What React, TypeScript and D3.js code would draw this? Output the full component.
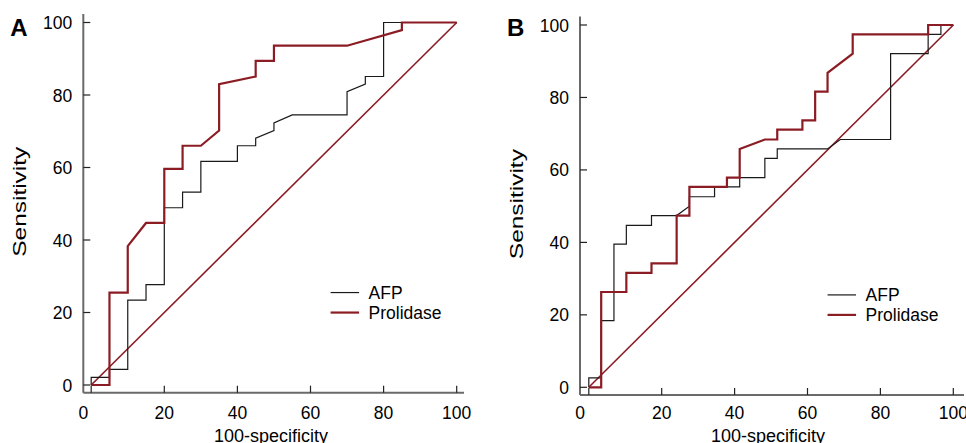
import React from "react";
import * as d3 from "d3";

// panel A
const afpAx = [0, 0, 5, 5, 10, 10, 15, 15, 20, 20, 25, 25, 30, 30, 40, 40, 45, 45, 50, 50, 55, 70, 70, 75, 75, 80, 80, 100];
const afpAy = [0, 2.1, 2.1, 4.3, 4.3, 23.4, 23.4, 27.7, 27.7, 48.9, 48.9, 53.2, 53.2, 61.7, 61.7, 66, 66, 68.1, 70.2, 72.3, 74.5, 74.5, 80.9, 83, 85.1, 85.1, 100, 100];
const proAx = [0, 5, 5, 10, 10, 15, 20, 20, 25, 25, 30, 35, 35, 45, 45, 50, 50, 70, 85, 85, 100];
const proAy = [0, 0, 25.5, 25.5, 38.3, 44.7, 44.7, 59.6, 59.6, 66, 66, 70.2, 83, 85.1, 89.4, 89.4, 93.6, 93.6, 97.9, 100, 100];

// panel B
const afpBx = [0, 0, 3.4, 3.4, 6.9, 6.9, 10.3, 10.3, 17.2, 17.2, 24.1, 27.6, 27.6, 34.5, 34.5, 41.4, 41.4, 48.3, 48.3, 51.7, 51.7, 65.5, 69, 82.8, 82.8, 93.1, 93.1, 96.6, 96.6, 100];
const afpBy = [0, 2.6, 2.6, 18.4, 18.4, 39.5, 39.5, 44.7, 44.7, 47.4, 47.4, 50, 52.6, 52.6, 55.3, 55.3, 57.9, 57.9, 63.2, 63.2, 65.8, 65.8, 68.4, 68.4, 92.1, 92.1, 97.4, 97.4, 100, 100];
const proBx = [0, 3.4, 3.4, 10.3, 10.3, 17.2, 17.2, 24.1, 24.1, 27.6, 27.6, 37.9, 37.9, 41.4, 41.4, 48.3, 51.7, 51.7, 58.6, 58.6, 62.1, 62.1, 65.5, 65.5, 72.4, 72.4, 93.1, 93.1, 100];
const proBy = [0, 0, 26.3, 26.3, 31.6, 31.6, 34.2, 34.2, 47.4, 47.4, 55.3, 55.3, 57.9, 57.9, 65.8, 68.4, 68.4, 71.1, 71.1, 73.7, 73.7, 81.6, 81.6, 86.8, 92.1, 97.4, 97.4, 100, 100];

const ticks = [0, 20, 40, 60, 80, 100];
const seriesNames = ["AFP", "Prolidase"];

const RED = "#8c1c24";
const FONT = "'Liberation Sans', Arial, sans-serif";

const zip = (xs: number[], ys: number[]) => xs.map((x, i) => [x, ys[i]] as [number, number]);

function Panel({ letter, x0, x100, y0, y100, axisX, axisY, xEnd, yTop, afp, pro }: any) {
  const x = d3.scaleLinear().domain([0, 100]).range([x0, x100]);
  const y = d3.scaleLinear().domain([0, 100]).range([y0, y100]);
  const line = d3.line<[number, number]>().x(d => x(d[0])).y(d => y(d[1]));
  const legX = x(65.5);
  const legY = y(25.5);

  return (
    <g>
      <text x={axisX - 73} y={36} fontFamily={FONT} fontWeight="bold" fontSize={24}>{letter}</text>

      {/* axes */}
      <line x1={axisX} x2={xEnd} y1={axisY} y2={axisY} stroke="#6a6a6a" strokeWidth={2} />
      <line x1={axisX} x2={axisX} y1={yTop} y2={axisY} stroke="#6a6a6a" strokeWidth={2} />
      {ticks.map(t => (
        <g key={"x" + t}>
          <line x1={x(t)} x2={x(t)} y1={axisY} y2={axisY - 7} stroke="#222" strokeWidth={1.2} />
          <text x={t === 0 ? axisX : x(t)} y={418.5} textAnchor="middle" fontFamily={FONT} fontSize={17.5}>{t}</text>
        </g>
      ))}
      {ticks.map(t => (
        <g key={"y" + t}>
          <line x1={axisX} x2={axisX + 7} y1={y(t)} y2={y(t)} stroke="#222" strokeWidth={1.2} />
          <text x={axisX - 11} y={y(t) + 6.5} textAnchor="end" fontFamily={FONT} fontSize={17.5}>{t}</text>
        </g>
      ))}
      <text x={(x0 + x100) / 2 - 3} y={442} textAnchor="middle" fontFamily={FONT} fontSize={18}>100-specificity</text>
      <text transform={`translate(${axisX - 57},${y(50) - 2}) rotate(-90)`} textAnchor="middle" fontFamily={FONT} fontSize={18}
        textLength={110} lengthAdjust="spacingAndGlyphs">Sensitivity</text>

      {/* reference diagonal */}
      <path d={line([[0, 0], [100, 100]]) || ""} fill="none" stroke={RED} strokeWidth={1.6} />
      <path d={line(afp) || ""} fill="none" stroke="#1a1a1a" strokeWidth={1.2} />
      <path d={line(pro) || ""} fill="none" stroke={RED} strokeWidth={2.2} />

      {/* legend */}
      {seriesNames.map((n, i) => (
        <g key={n}>
          <line x1={legX} x2={legX + 28.5} y1={legY + i * 20} y2={legY + i * 20}
            stroke={i === 0 ? "#1a1a1a" : RED} strokeWidth={i === 0 ? 1.2 : 2.2} />
          <text x={legX + 38} y={legY + i * 20 + 6.3} fontFamily={FONT} fontSize={17.5}>{n}</text>
        </g>
      ))}
    </g>
  );
}

export default function App() {
  return (
    <svg width={966} height={443} style={{ position: "absolute", left: 0, top: 0, background: "#fff" }}>
      <Panel letter="A" x0={91.2} x100={456.7} y0={385} y100={22.5} axisX={83.3} axisY={392.7} xEnd={464} yTop={14}
        afp={zip(afpAx, afpAy)} pro={zip(proAx, proAy)} />
      <Panel letter="B" x0={588.8} x100={953.3} y0={387.3} y100={25} axisX={580} axisY={395} xEnd={964} yTop={16.5}
        afp={zip(afpBx, afpBy)} pro={zip(proBx, proBy)} />
    </svg>
  );
}
